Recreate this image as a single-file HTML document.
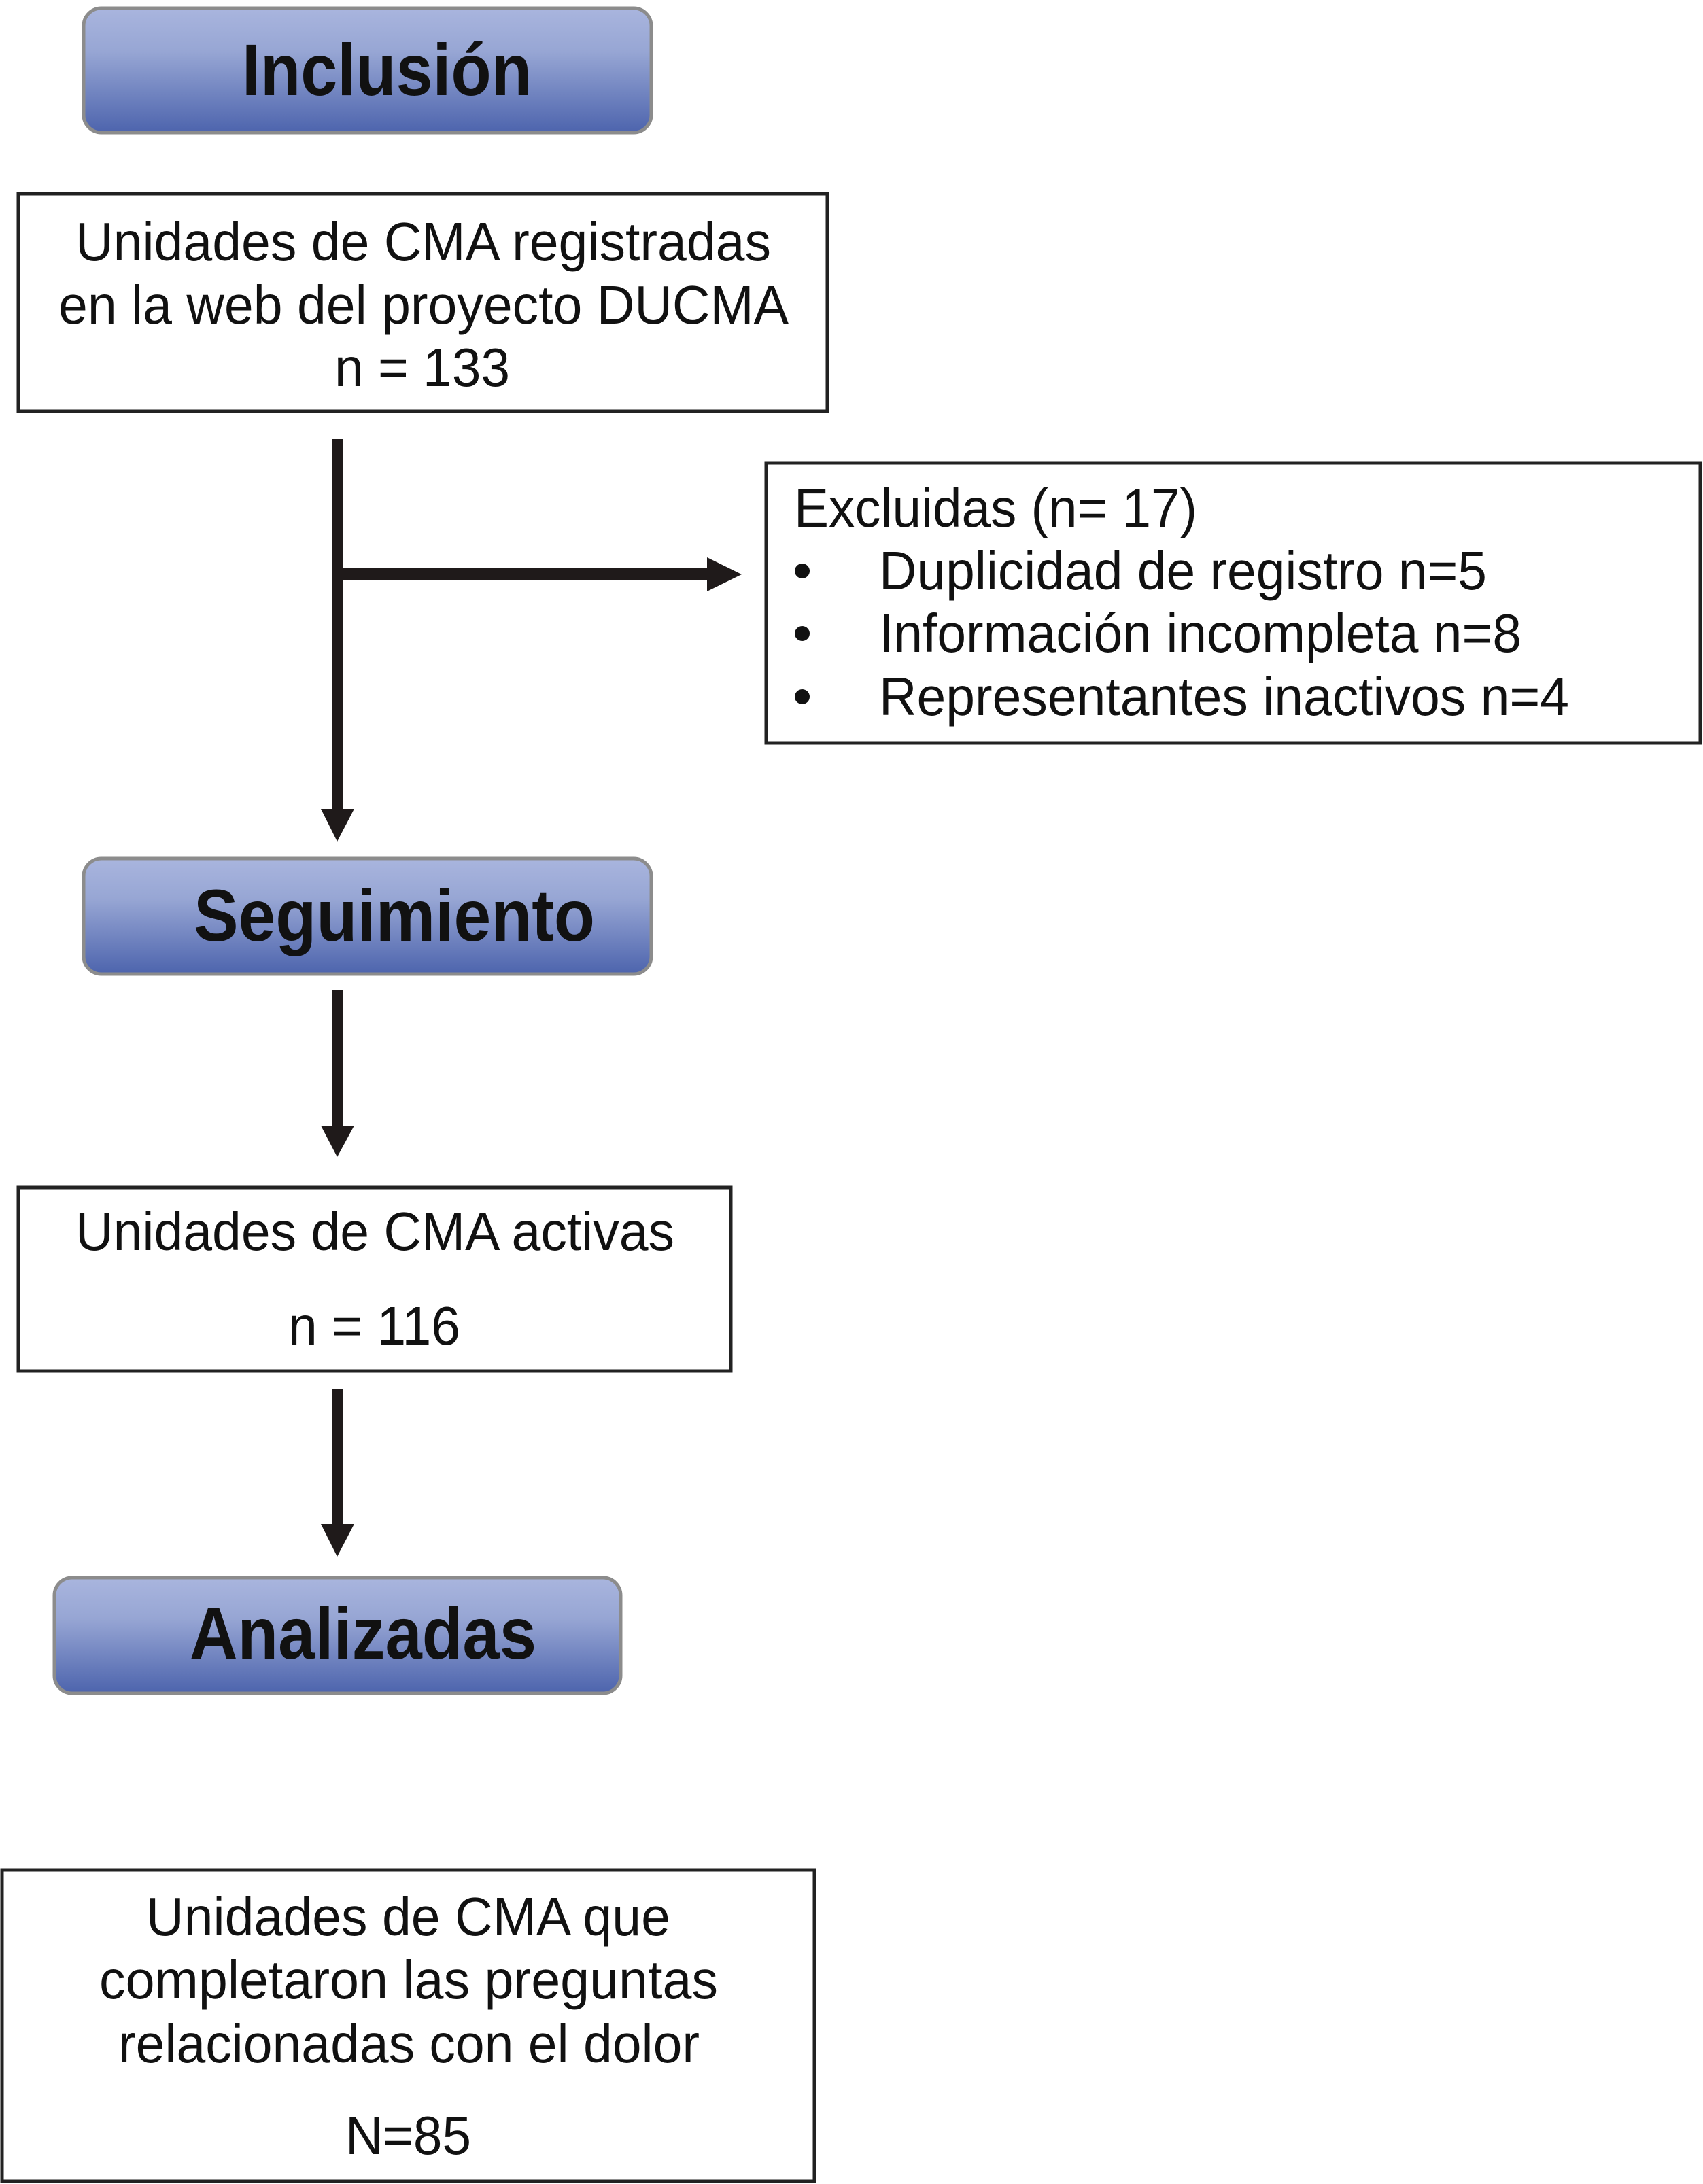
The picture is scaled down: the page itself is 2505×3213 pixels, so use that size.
<!DOCTYPE html>
<html><head><meta charset="utf-8"><style>html,body{margin:0;padding:0;background:#fff}svg{display:block}</style></head>
<body>
<svg width="2505" height="3213" viewBox="0 0 2505 3213" xmlns="http://www.w3.org/2000/svg">
<defs>
<linearGradient id="g" x1="0" y1="0" x2="0" y2="1">
<stop offset="0" stop-color="#a9b5de"/><stop offset="0.35" stop-color="#97a6d4"/><stop offset="1" stop-color="#4d64ad"/>
</linearGradient>
</defs>
<g font-family="Liberation Sans, sans-serif" fill="#111">
<!-- headers -->
<rect x="123" y="12" width="835" height="183" rx="26" fill="url(#g)" stroke="#8c8c8c" stroke-width="5"/>
<text x="356" y="140" font-size="108" font-weight="bold" textLength="426" lengthAdjust="spacingAndGlyphs">Inclusión</text>
<rect x="123" y="1263" width="835" height="170" rx="26" fill="url(#g)" stroke="#8c8c8c" stroke-width="5"/>
<text x="285" y="1384" font-size="108" font-weight="bold" textLength="590" lengthAdjust="spacingAndGlyphs">Seguimiento</text>
<rect x="80" y="2321" width="833" height="170" rx="26" fill="url(#g)" stroke="#8c8c8c" stroke-width="5"/>
<text x="279" y="2440" font-size="108" font-weight="bold" textLength="510" lengthAdjust="spacingAndGlyphs">Analizadas</text>

<!-- box 1 -->
<rect x="27" y="285" width="1190" height="320" fill="#fff" stroke="#222" stroke-width="5"/>
<text x="111" y="383" font-size="80" textLength="1023" lengthAdjust="spacingAndGlyphs">Unidades de CMA registradas</text>
<text x="86" y="476" font-size="80" textLength="1074" lengthAdjust="spacingAndGlyphs">en la web del proyecto DUCMA</text>
<text x="492" y="568" font-size="80" textLength="258" lengthAdjust="spacingAndGlyphs">n = 133</text>

<!-- arrows -->
<rect x="488" y="646" width="17" height="548" fill="#1f1a1a"/>
<polygon points="472,1190 521,1190 496,1238" fill="#1f1a1a"/>
<rect x="496" y="836" width="548" height="17" fill="#1f1a1a"/>
<polygon points="1040,820 1091,845 1040,870" fill="#1f1a1a"/>
<rect x="488" y="1456" width="17" height="205" fill="#1f1a1a"/>
<polygon points="472,1656 521,1656 496,1702" fill="#1f1a1a"/>
<rect x="488" y="2044" width="17" height="202" fill="#1f1a1a"/>
<polygon points="472,2242 521,2242 496,2290" fill="#1f1a1a"/>

<!-- exclusion box -->
<rect x="1127" y="681" width="1374" height="412" fill="#fff" stroke="#222" stroke-width="5"/>
<text x="1168" y="775" font-size="80" textLength="593" lengthAdjust="spacingAndGlyphs">Excluidas (n= 17)</text>
<circle cx="1180" cy="840" r="11"/><circle cx="1180" cy="932" r="11"/><circle cx="1180" cy="1025" r="11"/>
<text x="1293" y="867" font-size="80" textLength="894" lengthAdjust="spacingAndGlyphs">Duplicidad de registro n=5</text>
<text x="1293" y="959" font-size="80" textLength="945" lengthAdjust="spacingAndGlyphs">Información incompleta n=8</text>
<text x="1293" y="1052" font-size="80" textLength="1015" lengthAdjust="spacingAndGlyphs">Representantes inactivos n=4</text>

<!-- box 2 -->
<rect x="27" y="1747" width="1048" height="270" fill="#fff" stroke="#222" stroke-width="5"/>
<text x="111" y="1839" font-size="80" textLength="881" lengthAdjust="spacingAndGlyphs">Unidades de CMA activas</text>
<text x="424" y="1978" font-size="80" textLength="253" lengthAdjust="spacingAndGlyphs">n = 116</text>

<!-- box 3 -->
<rect x="3" y="2751" width="1195" height="458" fill="#fff" stroke="#222" stroke-width="5"/>
<text x="215" y="2847" font-size="80" textLength="771" lengthAdjust="spacingAndGlyphs">Unidades de CMA que</text>
<text x="146" y="2940" font-size="80" textLength="910" lengthAdjust="spacingAndGlyphs">completaron las preguntas</text>
<text x="174" y="3034" font-size="80" textLength="855" lengthAdjust="spacingAndGlyphs">relacionadas con el dolor</text>
<text x="508" y="3169" font-size="80" textLength="185" lengthAdjust="spacingAndGlyphs">N=85</text>
</g>
</svg>
</body></html>
